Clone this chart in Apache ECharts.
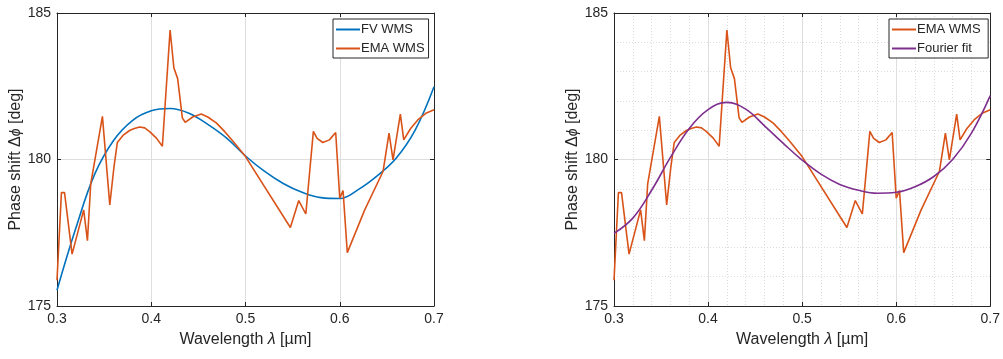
<!DOCTYPE html>
<html>
<head>
<meta charset="utf-8">
<script src="https://cdn.jsdelivr.net/npm/echarts@6/dist/echarts.min.js"></script>
<style>
  html, body { margin: 0; padding: 0; background: #fff; }
  #chart { width: 1003px; height: 359px; }
</style>
</head>
<body>
<div id="chart"></div>
<script>
// Wavelength samples (µm) of the EMA WMS phase shift, and the values (deg)
const emaWavelength = [0.300, 0.3047, 0.308, 0.316, 0.3283, 0.3323, 0.3358, 0.3482, 0.356, 0.3605, 0.364,
  0.370, 0.377, 0.382, 0.3877, 0.393, 0.398, 0.4055, 0.4118, 0.420, 0.424, 0.428, 0.433, 0.436, 0.444, 0.453,
  0.460, 0.469, 0.478, 0.4868, 0.500, 0.5476, 0.5565, 0.564, 0.572, 0.576, 0.582, 0.589, 0.5957, 0.600, 0.6035,
  0.608, 0.6265, 0.6459, 0.6523, 0.6565, 0.6643, 0.6679, 0.675, 0.683, 0.692, 0.700];
const emaPhase = [175.88, 178.87, 178.87, 176.77, 178.28, 177.23, 179.17, 181.47, 178.45, 179.76, 180.58,
  180.82, 180.99, 181.06, 181.11, 181.08, 180.96, 180.73, 180.45, 184.42, 183.13, 182.76, 181.42, 181.27, 181.45, 181.55,
  181.45, 181.25, 180.95, 180.62, 180.10, 177.68, 178.60, 178.14, 180.96, 180.72, 180.58, 180.67, 180.92, 178.68, 178.94,
  176.82, 178.28, 179.59, 180.90, 179.99, 181.55, 180.67, 181.05, 181.36, 181.59, 181.70];

// FV WMS phase shift and Fourier fit, sampled every 0.02 µm
const curveWavelength = [0.30, 0.32, 0.34, 0.36, 0.38, 0.40, 0.42, 0.44, 0.46, 0.48, 0.50,
  0.52, 0.54, 0.56, 0.58, 0.60, 0.62, 0.64, 0.66, 0.68, 0.70];
const fvPhase = [175.54, 177.66, 179.50, 180.65, 181.33, 181.66, 181.74, 181.58, 181.20, 180.73, 180.12,
  179.60, 179.18, 178.88, 178.70, 178.67, 178.98, 179.45, 180.05, 181.00, 182.48];
const fourierPhase = [177.48, 178.00, 178.95, 180.07, 181.06, 181.70, 181.95, 181.72, 181.15, 180.55, 179.98,
  179.50, 179.15, 178.95, 178.85, 178.88, 179.07, 179.42, 180.00, 180.90, 182.18];

const xTicks = { min: 0.3, max: 0.7, interval: 0.1 };
const yTicks = { min: 175, max: 185, interval: 5 };

const pairs = (xs, ys) => xs.map((x, i) => [x, ys[i]]);

const FONT = 'Liberation Sans, Arial, Helvetica, sans-serif';
const INK = '#262626';
const BLUE = '#0072BD', ORANGE = '#D95319', PURPLE = '#7E2F8E';

const grids = [
  { left: 57, right: 569, top: 13, bottom: 53 },
  { left: 614, right: 12, top: 13, bottom: 53 }
];

function xAxes(g, minor) {
  return [{
    type: 'value', gridIndex: g, min: xTicks.min, max: xTicks.max, interval: xTicks.interval,
    name: 'Wavelength {i|λ} [µm]', nameLocation: 'middle', nameGap: 26,
    nameTextStyle: { fontFamily: FONT, fontSize: 16, color: INK,
      rich: { i: { fontFamily: FONT, fontSize: 16, fontStyle: 'italic', color: INK } } },
    axisLine: { show: true, lineStyle: { color: INK, width: 1 } },
    axisTick: { show: true, inside: true, length: 4, lineStyle: { color: INK } },
    axisLabel: { fontFamily: FONT, fontSize: 14, color: INK, margin: 6,
      formatter: v => v.toFixed(1) },
    splitLine: { show: true, lineStyle: { color: '#dedede', width: 1 } },
    minorTick: { show: minor, splitNumber: 5, length: 0 },
    minorSplitLine: { show: minor, lineStyle: { color: '#dcdcdc', width: 1, type: [1, 2] } }
  }, {
    type: 'value', gridIndex: g, position: 'top', min: xTicks.min, max: xTicks.max, interval: xTicks.interval,
    axisLine: { show: true, lineStyle: { color: INK, width: 1 } },
    axisTick: { show: true, inside: true, length: 4, lineStyle: { color: INK } },
    axisLabel: { show: false }, splitLine: { show: false }
  }];
}

function yAxes(g, minor) {
  return [{
    type: 'value', gridIndex: g, min: yTicks.min, max: yTicks.max, interval: yTicks.interval,
    name: 'Phase shift Δ{i|ϕ} [deg]', nameLocation: 'middle', nameGap: 33,
    nameTextStyle: { fontFamily: FONT, fontSize: 16, color: INK,
      rich: { i: { fontFamily: FONT, fontSize: 14, fontStyle: 'italic', color: INK } } },
    axisLine: { show: true, lineStyle: { color: INK, width: 1 } },
    axisTick: { show: true, inside: true, length: 4, lineStyle: { color: INK } },
    axisLabel: { fontFamily: FONT, fontSize: 14, color: INK, margin: 6 },
    splitLine: { show: true, lineStyle: { color: '#dedede', width: 1 } },
    minorTick: { show: minor, splitNumber: 5, length: 0 },
    minorSplitLine: { show: minor, lineStyle: { color: '#dcdcdc', width: 1, type: [1, 2] } }
  }, {
    type: 'value', gridIndex: g, position: 'right', min: yTicks.min, max: yTicks.max, interval: yTicks.interval,
    axisLine: { show: true, lineStyle: { color: INK, width: 1 } },
    axisTick: { show: true, inside: true, length: 4, lineStyle: { color: INK } },
    axisLabel: { show: false }, splitLine: { show: false }
  }];
}

function lineSeries(name, color, data, xi, yi, smooth) {
  return {
    type: 'line', name, data, xAxisIndex: xi, yAxisIndex: yi,
    showSymbol: false, smooth, animation: false,
    lineStyle: { color, width: 1.6 }, itemStyle: { color }
  };
}

function legend(left, names) {
  return {
    data: names, orient: 'vertical', left, top: 19,
    icon: 'rect', itemWidth: 24, itemHeight: 2, itemGap: 6,
    padding: [4, 4, 3, 3],
    backgroundColor: '#fff', borderColor: INK, borderWidth: 1,
    textStyle: { fontFamily: FONT, fontSize: 13, color: INK, padding: [0, 0, 0, -4] },
    selectedMode: false
  };
}

const chart = echarts.init(document.getElementById('chart'), null, { renderer: 'canvas' });
chart.setOption({
  backgroundColor: '#fff',
  animation: false,
  grid: grids,
  xAxis: [...xAxes(0, false), ...xAxes(1, true)],
  yAxis: [...yAxes(0, false), ...yAxes(1, true)],
  legend: [
    { ...legend(333, ['FV WMS', 'EMA WMS']) },
    { ...legend(889, ['EMA WMS ', 'Fourier fit']) }
  ],
  series: [
    lineSeries('FV WMS', BLUE, pairs(curveWavelength, fvPhase), 0, 0, 0.4),
    lineSeries('EMA WMS', ORANGE, pairs(emaWavelength, emaPhase), 0, 0, false),
    lineSeries('EMA WMS ', ORANGE, pairs(emaWavelength, emaPhase), 2, 2, false),
    lineSeries('Fourier fit', PURPLE, pairs(curveWavelength, fourierPhase), 2, 2, 0.4)
  ]
});
</script>
</body>
</html>
